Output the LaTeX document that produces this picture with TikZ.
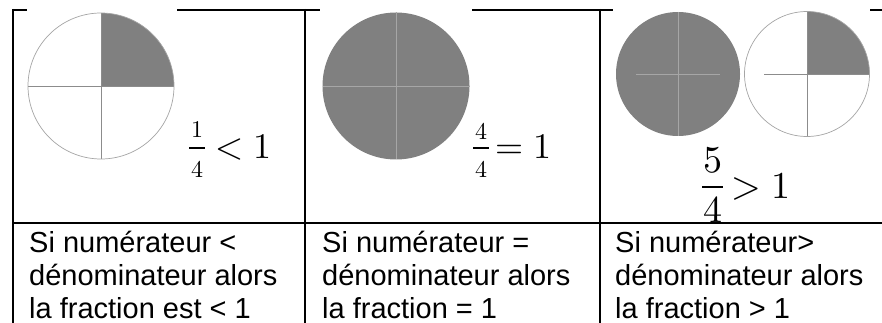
\documentclass[tikz,border=0pt]{standalone}
\usepackage{fontspec}
\usepackage{unicode-math}
\setmathfont{latinmodern-math.otf}
\newfontfamily\arialfont{Liberation Sans}
\definecolor{piegray}{RGB}{128,128,128}
\definecolor{rimgray}{RGB}{165,165,165}
\tikzset{
  rule/.style={line width=2pt, black},
  rim/.style={draw=rimgray, line width=0.7pt},
  crossline/.style={draw=black!45, line width=0.8pt},
  cellline/.style={anchor=base west, inner sep=0pt, font=\arialfont\fontsize{29}{33}\selectfont},
  smalldig/.style={anchor=base, inner sep=0pt, font=\fontsize{24}{24}\selectfont},
  bigdig/.style={anchor=base, inner sep=0pt, font=\fontsize{38}{38}\selectfont},
  relmath/.style={anchor=base west, inner sep=0pt},
  fracbar/.style={line width=2.6pt, black},
}
\begin{document}
\begin{tikzpicture}[x=1pt,y=-1pt]
\useasboundingbox (0,0) rectangle (882,323);
% table rules
\draw[rule] (12,10) -- (27,10);
\draw[rule] (177,10) -- (320,10);
\draw[rule] (472,10) -- (613,10);
\draw[rule] (870,10) -- (882,10);
\draw[rule] (12,223) -- (882,223);
\draw[rule] (13,9) -- (13,323);
\draw[rule] (305,9) -- (305,323);
\draw[rule] (600,9) -- (600,323);

% circle 1 : one quarter
\fill[white] (101,86) circle (73);
\fill[piegray] (101,86) -- (101,13) arc[start angle=90, end angle=0, radius=73pt] -- cycle;
\draw[crossline] (28,86) -- (174,86);
\draw[crossline] (101,13) -- (101,159);
\draw[rim] (101,86) circle (73);

% circle 2 : full
\fill[piegray] (396,86) circle (73.5);
\draw[crossline, draw=black!35] (322.5,86) -- (469.5,86);
\draw[crossline, draw=black!35] (396,12.5) -- (396,159.5);

% circle 3a : full
\fill[piegray] (678,74) circle (62);
\draw[crossline, draw=black!35] (636,74) -- (720,74);
\draw[crossline, draw=black!35] (678,12) -- (678,136);

% circle 3b : one quarter
\fill[white] (807,74) circle (62.5);
\fill[piegray] (807,74) -- (807,11.5) arc[start angle=90, end angle=0, radius=62.5pt] -- cycle;
\draw[crossline] (764,74) -- (869.5,74);
\draw[crossline] (807,11.5) -- (807,136.5);
\draw[rim] (807,74) circle (62.5);

% fraction 1/4 < 1
\node[smalldig] (n1) at (197,138) {$1$};
\node[smalldig] (d1) at (197,177) {$4$};
\draw[fracbar] (189,148) -- (205,148);
\node[relmath, font=\fontsize{36}{36}\selectfont] (r1) at (215,159) {$<1$};

% fraction 4/4 = 1
\node[smalldig] (n2) at (481,140) {$4$};
\node[smalldig] (d2) at (481,177) {$4$};
\draw[fracbar] (473,148) -- (489,148);
\node[relmath, font=\fontsize{36}{36}\selectfont] (r2) at (495,159) {$=1$};

% fraction 5/4 > 1
\node[bigdig] (n3) at (712.5,172) {$5$};
\node[bigdig] (d3) at (712.5,222) {$4$};
\draw[fracbar] (702,187) -- (723,187);
\node[relmath, font=\fontsize{38}{38}\selectfont] (r3) at (731,198) {$>1$};

% text cells
\node[cellline] (a1) at (29,252) {Si numérateur <};
\node[cellline] (a2) at (29,285) {dénominateur alors};
\node[cellline] (a3) at (29,318) {la fraction est < 1};
\node[cellline] (b1) at (322,252) {Si numérateur =};
\node[cellline] (b2) at (322,285) {dénominateur alors};
\node[cellline] (b3) at (322,318) {la fraction = 1};
\node[cellline] (c1) at (615,252) {Si numérateur>};
\node[cellline] (c2) at (615,285) {dénominateur alors};
\node[cellline] (c3) at (615,318) {la fraction > 1};
\end{tikzpicture}
\end{document}
